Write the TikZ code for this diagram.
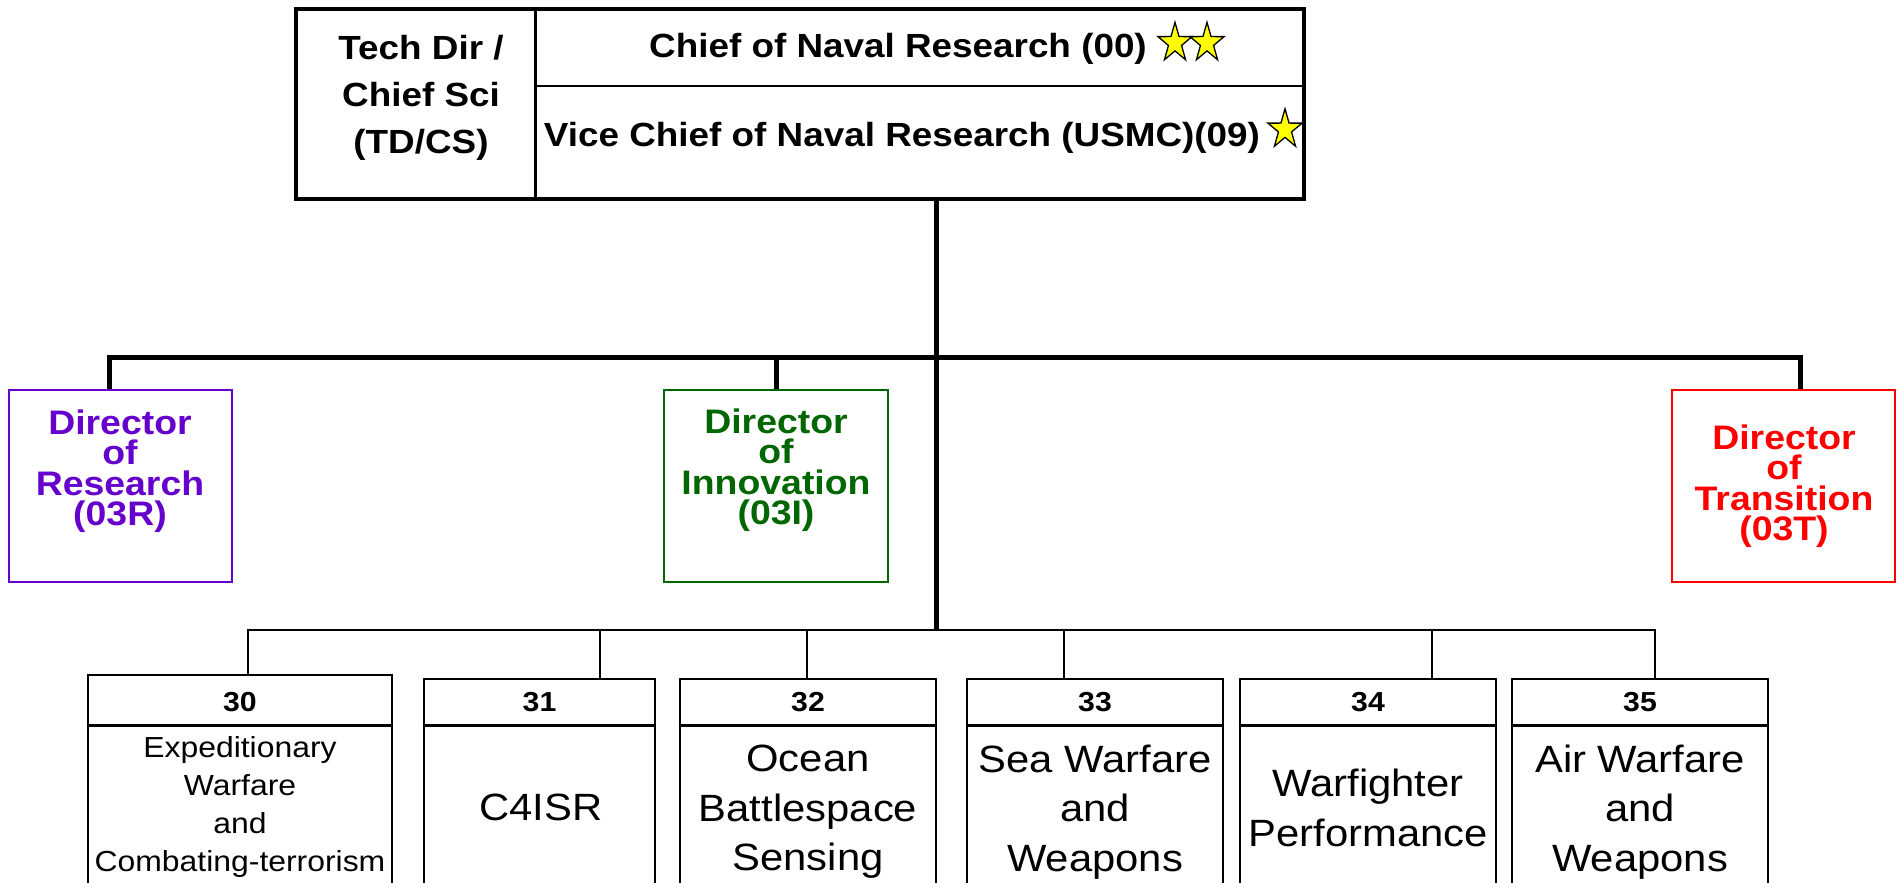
\documentclass[tikz,border=0pt]{standalone}
\usepackage{fontspec}
\setmainfont{Liberation Sans}[FakeStretch=1.1]
\definecolor{respurple}{HTML}{6600CC}
\definecolor{inngreen}{HTML}{006600}
\definecolor{trared}{HTML}{FF0000}
\definecolor{staryellow}{HTML}{FFFF00}
\tikzset{
  thickconn/.style={line width=5pt},
  thinconn/.style={line width=2pt},
  dirbox/.style={draw, line width=2pt, minimum width=223.5pt, minimum height=192pt, inner sep=0pt},
  dirtext/.style={inner sep=0pt, align=center, font=\fontsize{34}{30.5}\selectfont\bfseries},
  divbox/.style={draw, line width=2.2pt, minimum height=240pt, inner sep=0pt, anchor=north},
  numtext/.style={inner sep=0pt, font=\fontsize{27.5}{30}\selectfont\bfseries},
  bodytext/.style={inner sep=0pt, align=center, font=\fontsize{38}{49.5}\selectfont},
  smallbody/.style={inner sep=0pt, align=center, font=\fontsize{29}{38}\selectfont},
  toptext/.style={inner sep=0pt, align=center, font=\fontsize{33.5}{47}\selectfont\bfseries},
  starsty/.style={fill=staryellow, draw=black, line width=1.3pt, line join=miter},
}
\newcommand{\onrstar}[2]{%
  \begin{scope}[shift={(#1,#2)},yscale=1.15]
    \draw[starsty] (-90:18) -- (-54:6.88) -- (-18:18) -- (18:6.88) -- (54:18) -- (90:6.88) -- (126:18) -- (162:6.88) -- (198:18) -- (234:6.88) -- cycle;
  \end{scope}}
\begin{document}
\begin{tikzpicture}[x=1pt,y=-1pt]
\useasboundingbox (0,0) rectangle (1898,883);
\clip (0,0) rectangle (1898,883);
\fill[white] (0,0) rectangle (1898,883);

% helper coordinates
\coordinate (tdiv) at (535,0);
\coordinate (hdiv) at (0,86);
\coordinate (trunk) at (936,0);
\coordinate (hb) at (0,357);
\coordinate (bb) at (0,629.5);
\coordinate (hd) at (0,725.5);
\coordinate (dres) at (109,0);
\coordinate (dtra) at (1800,0);
\coordinate (d30) at (248,0);
\coordinate (d31) at (600,0);
\coordinate (d32) at (807,0);
\coordinate (d33) at (1064,0);
\coordinate (d34) at (1432,0);
\coordinate (d35) at (1655,0);

% top box
\node[draw, line width=3.5pt, minimum width=1008pt, minimum height=190pt, inner sep=0pt] (top) at (800,104) {};
\draw[line width=3pt] (tdiv |- top.north) -- (tdiv |- top.south);
\draw[line width=2pt] (hdiv -| tdiv) -- (hdiv -| top.east);
\node[toptext] (tech) at (421,98) {Tech Dir /\\Chief Sci\\(TD/CS)};
\node[toptext] (cnr) at (898,49) {Chief of Naval Research (00)};
\node[toptext] (vcnr) at (902,138) {Vice Chief of Naval Research (USMC)(09)};
\onrstar{1175}{43}
\onrstar{1207}{43}
\onrstar{1285}{129.5}

% directors
\node[dirbox, draw=respurple] (res) at (120.25,486) {};
\node[dirtext, text=respurple] (resT) at (120,471) {Director\\of\\Research\\(03R)};
\node[dirbox, draw=inngreen] (inn) at (776,486) {};
\node[dirtext, text=inngreen] (innT) at (776,470) {Director\\of\\Innovation\\(03I)};
\node[dirbox, draw=trared] (tra) at (1783.5,486) {};
\node[dirtext, text=trared] (traT) at (1784,486) {Director\\of\\Transition\\(03T)};

% thick connectors
\draw[thickconn] (trunk |- top.south) -- (trunk |- bb);
\draw[thickconn] (dres |- res.north) -- (dres |- hb) -- (dtra |- hb) -- (dtra |- tra.north);
\draw[thickconn] (inn.north) -- (inn.north |- hb);

% division boxes
\node[divbox, minimum width=304pt] (b30) at (240,674) {};
\node[divbox, minimum width=231pt] (b31) at (539.5,678) {};
\node[divbox, minimum width=256pt] (b32) at (808,678) {};
\node[divbox, minimum width=256pt] (b33) at (1095,678) {};
\node[divbox, minimum width=256pt] (b34) at (1368,678) {};
\node[divbox, minimum width=256pt] (b35) at (1640,678) {};
\foreach \b in {b30,b31,b32,b33,b34,b35}{
  \draw[line width=2.2pt] (\b.west |- hd) -- (\b.east |- hd);
}
\node[numtext] (n30) at (240,702) {30};
\node[numtext] (n31) at (539.5,702) {31};
\node[numtext] (n32) at (808,702) {32};
\node[numtext] (n33) at (1095,702) {33};
\node[numtext] (n34) at (1368,702) {34};
\node[numtext] (n35) at (1640,702) {35};
\node[smallbody] (t30) at (240,807) {Expeditionary\\Warfare\\and\\Combating-terrorism};
\node[bodytext] (t31) at (541,807) {C4ISR};
\node[bodytext] (t32) at (808,812) {Ocean\\Battlespace\\Sensing};
\node[bodytext] (t33) at (1095,812) {Sea Warfare\\and\\Weapons};
\node[bodytext] (t34) at (1368,808) {Warfighter\\Performance};
\node[bodytext] (t35) at (1640,812) {Air Warfare\\and\\Weapons};

% thin connectors
\draw[thinconn] (d30 |- b30.north) -- (d30 |- bb) -- (d35 |- bb) -- (d35 |- b35.north);
\draw[thinconn] (d31 |- bb) -- (d31 |- b31.north);
\draw[thinconn] (d32 |- bb) -- (d32 |- b32.north);
\draw[thinconn] (d33 |- bb) -- (d33 |- b33.north);
\draw[thinconn] (d34 |- bb) -- (d34 |- b34.north);
\end{tikzpicture}
\end{document}
